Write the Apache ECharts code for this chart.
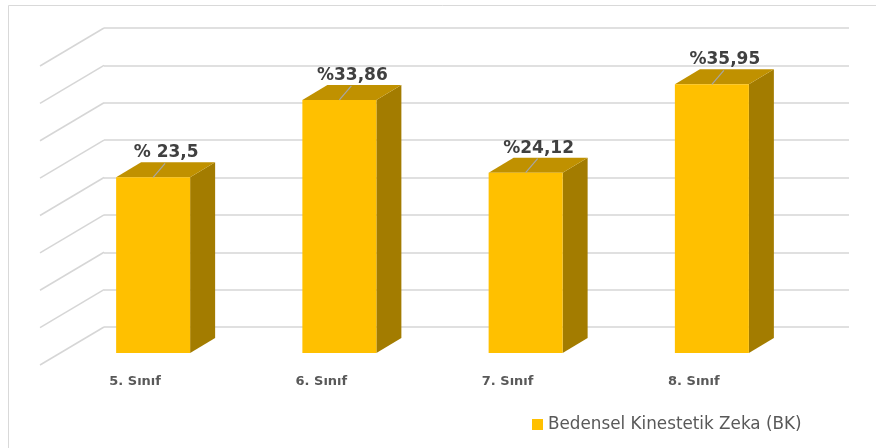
<!DOCTYPE html>
<html>
<head>
<meta charset="utf-8">
<script src="https://cdn.jsdelivr.net/npm/echarts@6/dist/echarts.min.js"></script>
<style>
html,body{margin:0;padding:0;background:#fff;}
#chart{width:876px;height:448px;}
</style>
</head>
<body>
<div id="chart"></div>
<script>
const categories = ['5. Sınıf', '6. Sınıf', '7. Sınıf', '8. Sınıf'];
const values = [23.5, 33.86, 24.12, 35.95];
const valueLabels = ['% 23,5', '%33,86', '%24,12', '%35,95'];
const yTicks = [0, 5, 10, 15, 20, 25, 30, 35, 40];
const seriesName = 'Bedensel Kinestetik Zeka (BK)';

const FRONT = { dx: -44, dy: 26 };   // bar front plane offset from back wall
const DEPTH = { dx: 25, dy: -15 };   // bar depth vector
const FLOOR = { dx: -64, dy: 38 };   // side wall depth vector
const BAR_W = 74;

const chart = echarts.init(document.getElementById('chart'), null, { renderer: 'canvas' });

const option = {
  animation: false,
  backgroundColor: '#ffffff',
  graphic: [{
    type: 'rect', silent: true, z: -10,
    shape: { x: 8.5, y: 5.5, width: 900, height: 600 },
    style: { fill: 'none', stroke: '#D9D9D9', lineWidth: 1 }
  }],
  grid: { left: 104, right: 27, top: 28, bottom: 121 },
  legend: {
    data: [seriesName],
    left: 532, top: 416, padding: 0,
    icon: 'rect', itemWidth: 11, itemHeight: 11,
    textStyle: { fontFamily: 'DejaVu Sans', fontSize: 16.8, color: '#595959' }
  },
  xAxis: {
    type: 'category',
    data: categories,
    axisLine: { show: false },
    axisTick: { show: false },
    splitLine: { show: false },
    axisLabel: {
      margin: 48,
      padding: [0, 124, 0, 0],
      fontFamily: 'DejaVu Sans', fontWeight: 'bold', fontSize: 13, color: '#595959'
    }
  },
  yAxis: {
    type: 'value', min: 0, max: 40, interval: 5,
    axisLine: { show: false }, axisTick: { show: false }, axisLabel: { show: false },
    splitLine: { lineStyle: { color: '#D6D6D6', width: 1.5 } }
  },
  series: [
    {
      type: 'custom',
      name: 'walls',
      silent: true,
      z: 1,
      data: yTicks.map(v => [0, v]),
      renderItem: function (params, api) {
        const y = api.coord([0, api.value(1)])[1];
        const x = params.coordSys.x;
        return {
          type: 'line',
          shape: { x1: x, y1: y, x2: x + FLOOR.dx, y2: y + FLOOR.dy },
          style: { stroke: '#D6D6D6', lineWidth: 1.5 }
        };
      }
    },
    {
      type: 'custom',
      name: seriesName,
      z: 5,
      itemStyle: { color: '#FFC000' },
      data: values.map((v, i) => [i, v]),
      renderItem: function (params, api) {
        const i = api.value(0), v = api.value(1);
        const base = api.coord([i, 0]);
        const h = api.size([0, v])[1];
        const cx = base[0] + FRONT.dx;
        const fb = base[1] + FRONT.dy;
        const ft = fb - h;
        const fl = cx - BAR_W / 2, fr = cx + BAR_W / 2;
        const d = DEPTH;
        return {
          type: 'group',
          children: [
            { type: 'polygon', shape: { points: [[fr, ft], [fr + d.dx, ft + d.dy], [fr + d.dx, fb + d.dy], [fr, fb]] },
              style: { fill: '#A37C00' } },
            { type: 'polygon', shape: { points: [[fl, ft], [fr, ft], [fr + d.dx, ft + d.dy], [fl + d.dx, ft + d.dy]] },
              style: { fill: '#C09100' } },
            { type: 'rect', shape: { x: fl, y: ft, width: BAR_W, height: h },
              style: { fill: '#FFC000' } },
            { type: 'line', shape: { x1: cx, y1: ft, x2: cx + 12, y2: ft - 14 },
              style: { stroke: '#A6A6A6', lineWidth: 1.2 } },
            { type: 'text', z2: 10,
              style: { x: cx + 13, y: ft - 16, text: valueLabels[params.dataIndex],
                align: 'center', verticalAlign: 'bottom', lineHeight: 17,
                font: 'bold 17px "DejaVu Sans"', fill: '#404040' } }
          ]
        };
      }
    }
  ]
};
chart.setOption(option);
</script>
</body>
</html>
